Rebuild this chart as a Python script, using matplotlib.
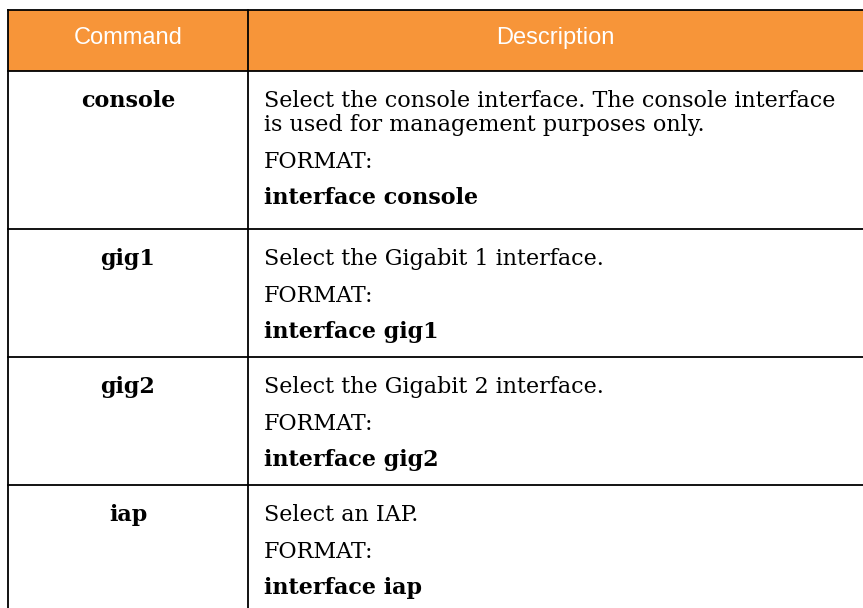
import matplotlib
matplotlib.use("Agg")
from matplotlib import pyplot as plt

HEADERS = ["Command", "Description"]
COMMANDS = ["console", "gig1", "gig2", "iap"]
DESCRIPTIONS = [
    "Select the console interface. The console interface\nis used for management purposes only.",
    "Select the Gigabit 1 interface.",
    "Select the Gigabit 2 interface.",
    "Select an IAP.",
]
FORMATS = ["interface console", "interface gig1", "interface gig2", "interface iap"]

W, H = 863, 608
ORANGE = "#F79539"
SERIF = ["DejaVu Serif"]
SANS = ["Liberation Sans", "DejaVu Sans"]


def main() -> None:
    fig = plt.figure(figsize=(W / 100, H / 100), dpi=100)
    ax = fig.add_axes([0, 0, 1, 1])
    ax.set_xlim(0, W)
    ax.set_ylim(H, 0)
    ax.axis("off")

    left, split, right = 8, 248, W + 2
    top, head_bot = 10, 71
    lw = 1.3

    # header band
    ax.add_patch(plt.Rectangle((left, top), right - left, head_bot - top,
                               facecolor=ORANGE, edgecolor="none"))
    ax.text((left + split) / 2, 38, HEADERS[0], color="white", fontsize=17,
            family=SANS, ha="center", va="center")
    ax.text((split + W) / 2, 38, HEADERS[1], color="white", fontsize=17,
            family=SANS, ha="center", va="center")

    ax.plot([left, right], [top, top], color="black", lw=lw)
    ax.plot([left, right], [head_bot, head_bot], color="black", lw=lw)

    y = head_bot
    first, wrap, para = 36, 24, 36.5
    base_h, extra_h = 128, 30
    tx = 264
    fs = 16
    for cmd, desc, fmt in zip(COMMANDS, DESCRIPTIONS, FORMATS):
        lines = desc.split("\n")
        ly = y + first
        ax.text((left + split) / 2, ly, cmd, fontsize=fs, family=SERIF,
                weight="bold", ha="center", va="baseline")
        for i, line in enumerate(lines):
            ax.text(tx, ly + i * wrap, line, fontsize=fs, family=SERIF, va="baseline")
        ly += (len(lines) - 1) * wrap + para
        ax.text(tx, ly, "FORMAT:", fontsize=fs, family=SERIF, va="baseline")
        ly += para
        ax.text(tx, ly, fmt, fontsize=fs, family=SERIF, weight="bold", va="baseline")
        y += base_h + extra_h * (len(lines) - 1)
        ax.plot([left, right], [y, y], color="black", lw=lw)

    ax.plot([left, left], [top, H + 2], color="black", lw=lw)
    ax.plot([split, split], [top, H + 2], color="black", lw=lw)

    fig.savefig("out.png", dpi=100)


if __name__ == "__main__":
    main()
